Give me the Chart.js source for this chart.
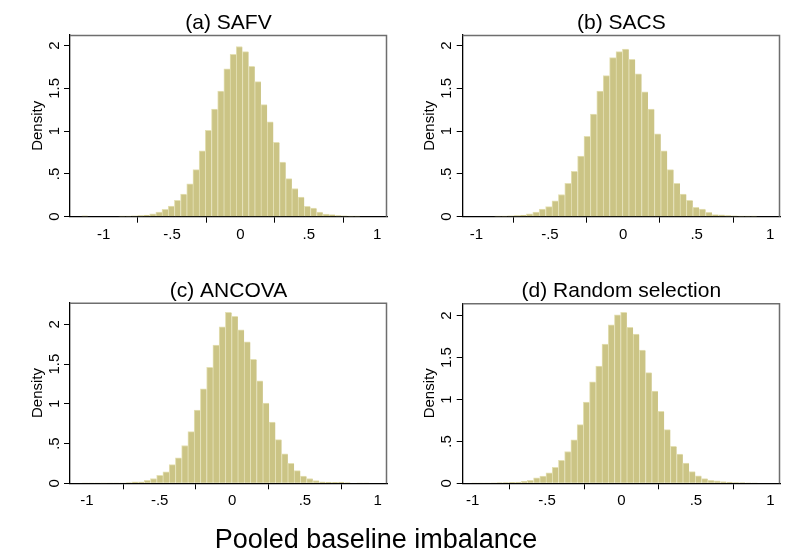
<!DOCTYPE html>
<html>
<head>
<meta charset="utf-8">
<script src="https://cdn.jsdelivr.net/npm/chart.js@4.4.0/dist/chart.umd.min.js"></script>
<style>
  html, body { margin: 0; padding: 0; background: #fff; }
  #wrap { position: relative; width: 785px; height: 552px; background: #fff; overflow: hidden; }
  .panel { position: absolute; }
  #xtitle { position: absolute; left: 0; width: 752px; top: 526px; text-align: center;
            font: 27px "Liberation Sans", Arial, sans-serif; line-height: 27px; color: #000; }
</style>
</head>
<body>
<div id="wrap">
  <div class="panel" style="left:0;top:0"><canvas id="cA" width="392" height="262"></canvas></div>
  <div class="panel" style="left:392px;top:0"><canvas id="cB" width="393" height="262"></canvas></div>
  <div class="panel" style="left:0;top:262px"><canvas id="cC" width="392" height="270"></canvas></div>
  <div class="panel" style="left:392px;top:262px"><canvas id="cD" width="393" height="270"></canvas></div>
  <div id="xtitle">Pooled baseline imbalance</div>
</div>
<script>
// ---- data ----
const xTickVals = [-1, -0.5, 0, 0.5, 1];
const xTickText = ['-1', '-.5', '0', '.5', '1'];
const yTickVals = [0, 0.5, 1, 1.5, 2];
const yTickText = ['0', '.5', '1', '1.5', '2'];
const yTitle = 'Density';

// (a) SAFV
const titleA = '(a) SAFV';
const binStartA = -1.161, binWidthA = 0.0452;
const densityA = [0.01, 0, 0, 0, 0.004, 0.005, 0.006, 0.008, 0.01, 0.014,
  0.02, 0.035, 0.055, 0.085, 0.125, 0.19, 0.265, 0.385, 0.55, 0.77,
  1.01, 1.26, 1.47, 1.73, 1.90, 1.99, 1.93, 1.76, 1.58, 1.31,
  1.11, 0.87, 0.64, 0.445, 0.33, 0.23, 0.12, 0.10, 0.055, 0.03,
  0.025, 0.012, 0.01, 0.008, 0.006, 0.005];
const xRangeA = [-1.246, 1.071], yMaxA = 2.125;

// (b) SACS
const titleB = '(b) SACS';
const binStartB = -1.009, binWidthB = 0.0436;
const densityB = [0.004, 0.005, 0.005, 0.007, 0.008, 0.01, 0.013, 0.02, 0.035, 0.055,
  0.088, 0.117, 0.185, 0.26, 0.39, 0.53, 0.71, 0.94, 1.20, 1.47,
  1.65, 1.86, 1.93, 1.96, 1.84, 1.67, 1.46, 1.26, 0.97, 0.77,
  0.55, 0.39, 0.265, 0.19, 0.11, 0.09, 0.05, 0.025, 0.022, 0.012,
  0.01, 0.008, 0.007, 0.006, 0.005, 0.005];
const xRangeB = [-1.094, 1.0675], yMaxB = 2.125;

// (c) ANCOVA
const titleC = '(c) ANCOVA';
const binStartC = -1.0365, binWidthC = 0.043;
const densityC = [0.005, 0.003, 0.005, 0.002, 0.003, 0.004, 0.005, 0.008, 0.017, 0.02,
  0.038, 0.06, 0.1, 0.145, 0.235, 0.32, 0.475, 0.65, 0.92, 1.19,
  1.46, 1.74, 1.97, 2.15, 2.10, 1.93, 1.78, 1.56, 1.29, 1.01,
  0.77, 0.55, 0.37, 0.25, 0.16, 0.09, 0.06, 0.034, 0.017, 0.015,
  0.012, 0.015, 0.008, 0.006, 0.005, 0.004];
const xRangeC = [-1.117, 1.065], yMaxC = 2.272;

// (d) Random selection
const titleD = '(d) Random selection';
const binStartD = -1.009, binWidthD = 0.0418;
const densityD = [0.004, 0.004, 0.005, 0.006, 0.008, 0.01, 0.012, 0.014, 0.024, 0.036,
  0.064, 0.085, 0.125, 0.19, 0.275, 0.38, 0.52, 0.70, 0.97, 1.21,
  1.40, 1.66, 1.89, 2.01, 2.04, 1.86, 1.78, 1.59, 1.32, 1.10,
  0.86, 0.64, 0.44, 0.35, 0.24, 0.14, 0.09, 0.056, 0.036, 0.028,
  0.02, 0.015, 0.01, 0.008, 0.006, 0.005];
const xRangeD = [-1.067, 1.065], yMaxD = 2.148;

// ---- style ----
const FONT = '"Liberation Sans", Arial, sans-serif';
const BAR_FILL = '#cbc485';
const BAR_LINE = '#e4e0b4';
const FRAME = '#6e6e6e';
const XAXIS_H = 24;

// titles, rotated y labels and the top/right frame
const decor = {
  id: 'decor',
  afterDraw(chart, args, o) {
    const { ctx, chartArea: a, scales: { y } } = chart;
    ctx.save();
    ctx.strokeStyle = FRAME;
    ctx.lineWidth = 1.5;
    ctx.beginPath();
    ctx.moveTo(a.left, a.top + 0.5);
    ctx.lineTo(a.right - 0.5, a.top + 0.5);
    ctx.lineTo(a.right - 0.5, a.bottom);
    ctx.stroke();

    ctx.fillStyle = '#000';
    ctx.font = '15px ' + FONT;
    ctx.textAlign = 'center';
    ctx.textBaseline = 'alphabetic';
    yTickVals.forEach((v, i) => {
      ctx.save();
      ctx.translate(a.left - 11.5, y.getPixelForValue(v));
      ctx.rotate(-Math.PI / 2);
      ctx.fillText(yTickText[i], 0, 0);
      ctx.restore();
    });
    ctx.save();
    ctx.translate(a.left - 28.5, (a.top + a.bottom) / 2);
    ctx.rotate(-Math.PI / 2);
    ctx.fillText(yTitle, 0, 0);
    ctx.restore();

    ctx.font = '21px ' + FONT;
    ctx.fillText(o.title, (a.left + a.right) / 2, a.top - 6);
    ctx.restore();
  }
};

function panel(id, title, start, width, dens, xr, ymax, area) {
  const cv = document.getElementById(id);
  const pts = dens.map((d, i) => ({ x: start + (i + 0.5) * width, y: d }));
  return new Chart(cv.getContext('2d'), {
    type: 'bar',
    data: {
      datasets: [{
        data: pts,
        backgroundColor: BAR_FILL, borderColor: BAR_LINE,
        borderWidth: { top: 1, left: 1, right: 0, bottom: 0 },
        barPercentage: 1, categoryPercentage: 1
      }]
    },
    options: {
      responsive: false, animation: false, devicePixelRatio: 1,
      layout: { padding: { left: 0, top: area.top, right: cv.width - area.right, bottom: cv.height - area.bottom - XAXIS_H } },
      plugins: { legend: { display: false }, tooltip: { enabled: false }, decor: { title } },
      scales: {
        x: {
          type: 'linear', min: xr[0], max: xr[1], offset: false,
          grid: { display: true, drawOnChartArea: false, drawTicks: true, tickLength: 6, color: '#000' },
          border: { display: true, color: '#000', width: 1.3 },
          ticks: { color: '#000', padding: 3, maxRotation: 0, font: { family: FONT, size: 15 },
                   callback: v => xTickText[xTickVals.indexOf(v)] },
          afterBuildTicks: s => { s.ticks = xTickVals.map(v => ({ value: v })); },
          afterFit: s => { s.height = XAXIS_H; }
        },
        y: {
          min: 0, max: ymax,
          grid: { display: true, drawOnChartArea: false, drawTicks: true, tickLength: 6, color: '#000' },
          border: { display: true, color: '#000', width: 1.3 },
          ticks: { display: false },
          afterBuildTicks: s => { s.ticks = yTickVals.map(v => ({ value: v })); },
          afterFit: s => { s.width = area.left; }
        }
      }
    },
    plugins: [decor]
  });
}

panel('cA', titleA, binStartA, binWidthA, densityA, xRangeA, yMaxA, { left: 70, top: 35, right: 387, bottom: 216.7 });
panel('cB', titleB, binStartB, binWidthB, densityB, xRangeB, yMaxB, { left: 70.7, top: 35, right: 388, bottom: 216.7 });
panel('cC', titleC, binStartC, binWidthC, densityC, xRangeC, yMaxC, { left: 70, top: 40.7, right: 387, bottom: 221.3 });
panel('cD', titleD, binStartD, binWidthD, densityD, xRangeD, yMaxD, { left: 70.7, top: 41.3, right: 388, bottom: 221.3 });
</script>
</body>
</html>
